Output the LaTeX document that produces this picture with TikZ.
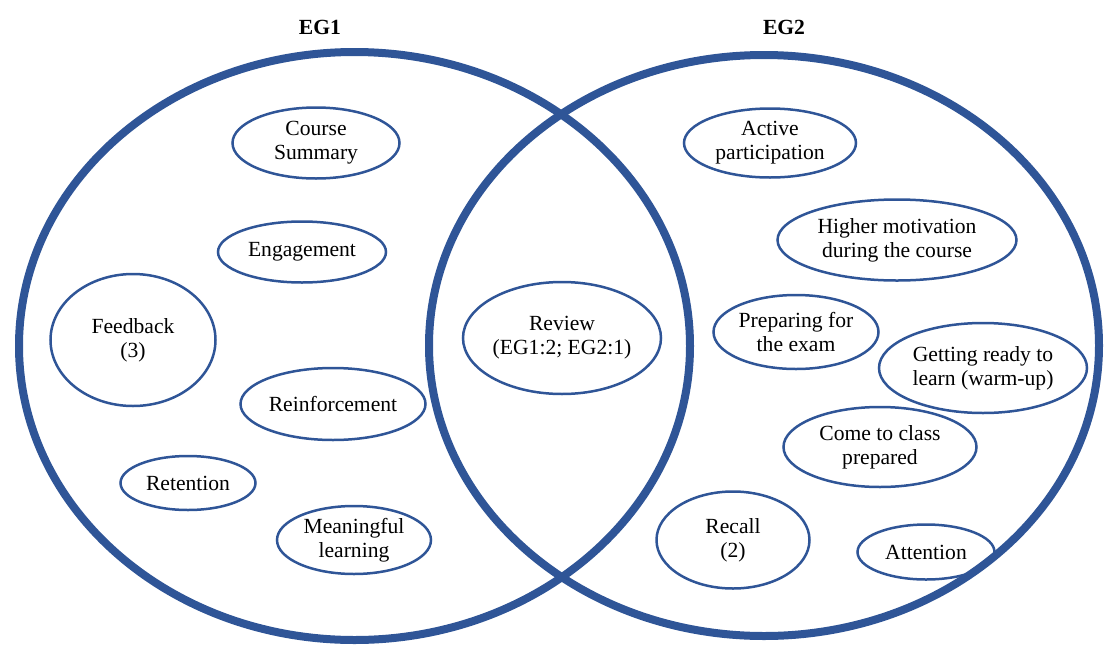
\documentclass[tikz,border=0pt]{standalone}
\usepackage{fontspec}
\setmainfont{Liberation Serif}
\usepackage{tikz}
\usetikzlibrary{shapes.geometric}

\definecolor{vennblue}{RGB}{47,85,151}

\begin{document}
\begin{tikzpicture}[x=1pt,y=-1pt]
  \tikzset{group/.style = {shape=ellipse,draw=vennblue,line width=8pt,inner sep=0pt}}
  \tikzset{topic/.style = {shape=ellipse,draw=vennblue,line width=2.5pt,inner sep=0pt,align=center,
      font=\fontsize{21.6}{24}\selectfont}}
  \tikzset{title/.style = {font=\fontsize{21.6}{24}\selectfont\bfseries}}

  \useasboundingbox (0,0) rectangle (1104,646);

	\node[group,minimum width=671pt,minimum height=588pt] (G1) at (354.5,346) {};
	\node[group,minimum width=670pt,minimum height=581pt] (G2) at (764,345.5) {};
	\node[title] (T1) at (320,27) {EG1};
	\node[title] (T2) at (784,27) {EG2};

	% EG1 only
	\node[topic,minimum width=167pt,minimum height=71pt] (CS) at (316,143) {Course\\Summary};
	\node[topic,minimum width=168pt,minimum height=61pt] (EN) at (302,252) {Engagement};
	\node[topic,minimum width=165pt,minimum height=132pt] (FB) at (133,340) {Feedback\\(3)};
	\node[topic,minimum width=185pt,minimum height=72pt] (RF) at (333,404) {Reinforcement};
	\node[topic,minimum width=135pt,minimum height=54pt] (RT) at (188,483) {Retention};
	\node[topic,minimum width=154pt,minimum height=68pt] (ML) at (354,540) {Meaningful\\learning};

	% both
	\node[topic,minimum width=198pt,minimum height=112pt] (RV) at (562,338) {Review\\(EG1:2; EG2:1)};

	% EG2 only
	\node[topic,minimum width=172pt,minimum height=69pt] (AP) at (770,143) {Active\\participation};
	\node[topic,minimum width=239pt,minimum height=81pt] (HM) at (897,240) {Higher motivation\\during the course};
	\node[topic,minimum width=165pt,minimum height=74pt] (PE) at (796,332) {Preparing for\\the exam};
	\node[topic,minimum width=208pt,minimum height=90pt] (GR) at (983,368) {Getting ready to\\learn (warm-up)};
	\node[topic,minimum width=193pt,minimum height=80pt] (CC) at (880,447) {Come to class\\prepared};
	\node[topic,minimum width=153pt,minimum height=97pt] (RC) at (733,540) {Recall\\(2)};
	\node[topic,minimum width=137pt,minimum height=55pt] (AT) at (926,552) {Attention};
\end{tikzpicture}
\end{document}
